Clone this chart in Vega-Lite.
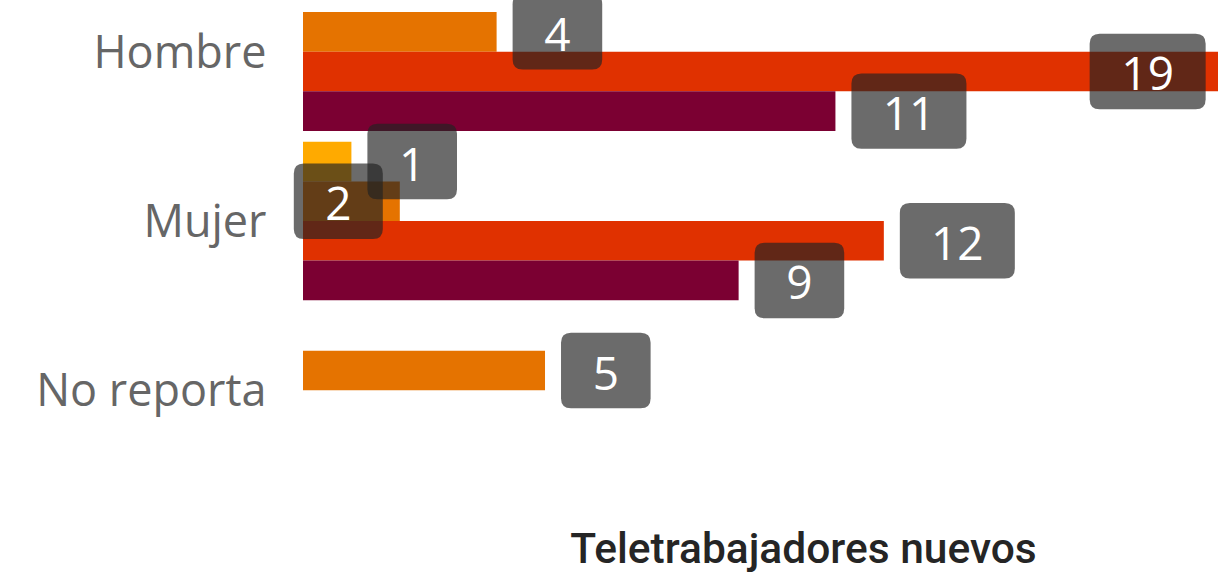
{
  "$schema": "https://vega.github.io/schema/vega-lite/v6.json",
  "autosize": {"type": "none"},
  "padding": {"left": 303, "top": -33, "right": -85, "bottom": 103},
  "width": 1000,
  "height": 508,
  "background": "#ffffff",
  "config": {"view": {"stroke": null}},
  "data": {
    "values": [
      {"genero": "Hombre", "grupo": "Grupo 2", "valor": 4},
      {"genero": "Hombre", "grupo": "Grupo 3", "valor": 19},
      {"genero": "Hombre", "grupo": "Grupo 4", "valor": 11},
      {"genero": "Mujer", "grupo": "Grupo 1", "valor": 1},
      {"genero": "Mujer", "grupo": "Grupo 2", "valor": 2},
      {"genero": "Mujer", "grupo": "Grupo 3", "valor": 12},
      {"genero": "Mujer", "grupo": "Grupo 4", "valor": 9},
      {"genero": "No reporta", "grupo": "Grupo 2", "valor": 5}
    ]
  },
  "encoding": {
    "y": {
      "field": "genero", "type": "nominal",
      "sort": ["Hombre", "Mujer", "No reporta"],
      "scale": {"paddingInner": 0.064, "paddingOuter": 0.032},
      "axis": {"title": null, "ticks": false, "domain": false, "labelFont": "Open Sans", "labelFontSize": 45, "labelColor": "#666666", "labelPadding": 37, "labelLimit": 0, "labelOffset": 2}
    },
    "yOffset": {
      "field": "grupo", "type": "nominal",
      "scale": {"domain": ["Grupo 1", "Grupo 2", "Grupo 3", "Grupo 4"], "paddingInner": 0, "paddingOuter": 0}
    },
    "x": {
      "field": "valor", "type": "quantitative",
      "scale": {"domain": [0, 20.66], "nice": false, "zero": true},
      "axis": {"title": "Teletrabajadores nuevos", "labels": false, "ticks": false, "domain": false, "grid": false, "titleFont": "Roboto", "titleFontWeight": 500, "titleFontSize": 42.5, "titleColor": "#252525", "titlePadding": 53}
    }
  },
  "layer": [
    {
      "mark": {"type": "bar"},
      "encoding": {
        "color": {
          "field": "grupo", "type": "nominal", "legend": null,
          "scale": {"domain": ["Grupo 1", "Grupo 2", "Grupo 3", "Grupo 4"], "range": ["#FFAA00", "#E57300", "#E03100", "#7B0032"]}
        }
      }
    },
    {
      "transform": [{"filter": "datum.valor < 10 && datum.valor != 2"}],
      "mark": {"type": "point", "filled": true, "size": 40000, "fill": "#222222", "fillOpacity": 0.67, "opacity": 1, "strokeWidth": 0,
        "shape": "M0.26 -0.377 H0.956 Q1.056 -0.377 1.056 -0.277 V0.277 Q1.056 0.377 0.956 0.377 H0.26 Q0.16 0.377 0.16 0.277 V-0.277 Q0.16 -0.377 0.26 -0.377 Z"}
    },
    {
      "transform": [{"filter": "datum.valor >= 10 && datum.valor < 19"}],
      "mark": {"type": "point", "filled": true, "size": 40000, "fill": "#222222", "fillOpacity": 0.67, "opacity": 1, "strokeWidth": 0,
        "shape": "M0.26 -0.377 H1.21 Q1.31 -0.377 1.31 -0.277 V0.277 Q1.31 0.377 1.21 0.377 H0.26 Q0.16 0.377 0.16 0.277 V-0.277 Q0.16 -0.377 0.26 -0.377 Z"}
    },
    {
      "transform": [{"filter": "datum.valor == 19"}],
      "mark": {"type": "point", "filled": true, "size": 40000, "fill": "#222222", "fillOpacity": 0.67, "opacity": 1, "strokeWidth": 0,
        "shape": "M-1.23 -0.377 H-0.27 Q-0.17 -0.377 -0.17 -0.277 V0.277 Q-0.17 0.377 -0.27 0.377 H-1.23 Q-1.33 0.377 -1.33 0.277 V-0.277 Q-1.33 -0.377 -1.23 -0.377 Z"}
    },
    {
      "transform": [{"filter": "datum.valor == 2"}],
      "mark": {"type": "point", "filled": true, "size": 40000, "fill": "#222222", "fillOpacity": 0.67, "opacity": 1, "strokeWidth": 0,
        "shape": "M-0.96 -0.377 H-0.27 Q-0.17 -0.377 -0.17 -0.277 V0.277 Q-0.17 0.377 -0.27 0.377 H-0.96 Q-1.06 0.377 -1.06 0.277 V-0.277 Q-1.06 -0.377 -0.96 -0.377 Z"}
    },
    {
      "transform": [{"filter": "datum.valor < 10 && datum.valor != 2"}],
      "mark": {"type": "text", "font": "Open Sans", "fontSize": 46, "fontWeight": "normal", "color": "#ffffff", "align": "center", "baseline": "middle", "dx": 60.8, "dy": 5},
      "encoding": {"text": {"field": "valor", "type": "quantitative"}}
    },
    {
      "transform": [{"filter": "datum.valor >= 10 && datum.valor < 19"}],
      "mark": {"type": "text", "font": "Open Sans", "fontSize": 46, "fontWeight": "normal", "color": "#ffffff", "align": "center", "baseline": "middle", "dx": 73.5, "dy": 5},
      "encoding": {"text": {"field": "valor", "type": "quantitative"}}
    },
    {
      "transform": [{"filter": "datum.valor == 19"}],
      "mark": {"type": "text", "font": "Open Sans", "fontSize": 46, "fontWeight": "normal", "color": "#ffffff", "align": "center", "baseline": "middle", "dx": -75, "dy": 5},
      "encoding": {"text": {"field": "valor", "type": "quantitative"}}
    },
    {
      "transform": [{"filter": "datum.valor == 2"}],
      "mark": {"type": "text", "font": "Open Sans", "fontSize": 46, "fontWeight": "normal", "color": "#ffffff", "align": "center", "baseline": "middle", "dx": -61.5, "dy": 5},
      "encoding": {"text": {"field": "valor", "type": "quantitative"}}
    }
  ]
}
